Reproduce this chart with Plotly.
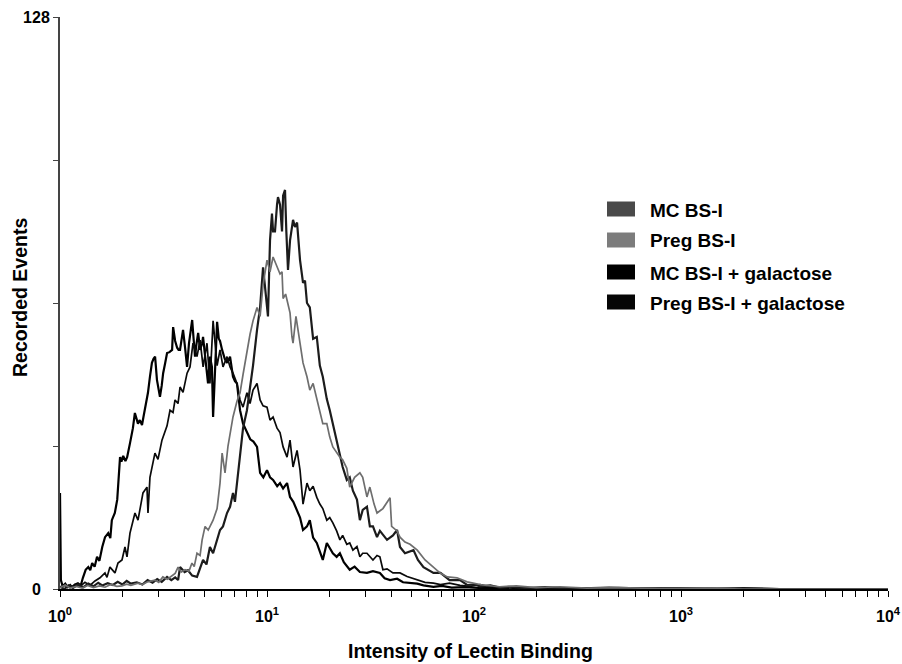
import plotly.graph_objects as go

# ---------------- data (intensity, recorded events) ----------------
mc_gal_x = [1.0, 1.01, 1.03, 1.06, 1.09, 1.12, 1.15, 1.18, 1.22, 1.26, 1.29, 1.33, 1.37, 1.40, 1.43, 1.47,
            1.51, 1.55, 1.60, 1.65, 1.71, 1.75, 1.78, 1.84, 1.89, 1.92, 1.95, 1.98, 2.02, 2.07, 2.11, 2.18,
            2.25, 2.30, 2.34, 2.38, 2.43, 2.49, 2.53, 2.57, 2.61, 2.66, 2.72, 2.78, 2.83, 2.88, 2.94, 2.99,
            3.04, 3.10, 3.15, 3.22, 3.29, 3.38, 3.48, 3.52, 3.60, 3.68, 3.74, 3.80, 3.87, 3.93, 4.02, 4.11,
            4.20, 4.35, 4.42, 4.49, 4.57, 4.65, 4.75, 4.86, 4.91, 5.05, 5.19, 5.30, 5.42, 5.49, 5.60, 5.74,
            5.85, 5.93, 6.07, 6.25, 6.41, 6.63, 6.85, 7.0, 7.16, 7.41, 7.66, 8.0, 8.3, 8.6, 8.95, 9.26, 9.6,
            10.0, 10.34, 10.7, 11.2, 11.56, 11.96, 12.5, 12.92, 13.4, 13.97, 14.44, 14.93, 15.6, 16.1, 16.7,
            17.4, 18.0, 18.6, 19.45, 20.1, 20.8, 21.7, 22.5, 23.5, 25.1, 26.5, 28.1, 30.4, 32.5, 35.1, 37,
            39.3, 42.5, 45.4, 49, 53.2, 57, 63.7, 70, 78, 90, 110, 140, 200, 300, 500, 800, 1500, 3000, 10000]
mc_gal_y = [21.5, 2.0, 0.6, 1.2, 0.4, 0.9, 0.3, 1.0, 1.3, 0.8, 2.5, 4.3, 4.9, 4.2, 5.8, 5.0,
            7.2, 6.3, 9.4, 11.6, 12.5, 11.4, 15.4, 17.0, 20.0, 24.0, 29.5, 28.5, 29.8, 28.6, 29.5, 32.7,
            36.0, 39.4, 38.0, 37.0, 37.8, 36.7, 38.5, 40.0, 42.0, 43.9, 47.5, 50.6, 51.5, 52.0, 46.8, 45.0,
            43.0, 45.5, 48.3, 50.5, 52.8, 53.0, 53.5, 58.6, 55.5, 54.0, 53.5, 53.5, 56.0, 58.0, 54.0, 49.7,
            55.0, 60.2, 56.0, 52.0, 55.0, 57.3, 53.5, 55.0, 56.4, 51.0, 46.0, 52.0, 49.7, 38.5, 50.0, 59.8,
            56.0, 55.5, 53.5, 51.5, 50.6, 52.0, 47.5, 46.5, 46.0, 40.0, 37.0, 35.0, 33.5, 33.0, 31.8, 26.0, 25.0,
            26.6, 25.0, 24.4, 23.0, 23.7, 22.5, 23.7, 20.6, 19.5, 17.7, 16.0, 13.2, 14.0, 15.4, 11.5,
            10.3, 8.5, 6.5, 10.3, 9.0, 8.0, 7.2, 8.0, 6.0, 4.3, 5.0, 3.8, 3.6, 4.0, 3.6, 2.4,
            2.0, 2.3, 1.5, 1.3, 1.2, 0.8, 0.5, 0.7, 0.3, 0.4, 0.2, 0.3, 0.1, 0.2, 0.1, 0.1, 0.1, 0.0, 0.0]

preg_gal_x = [1.0, 1.057, 1.118, 1.182, 1.249, 1.32, 1.396, 1.476, 1.56, 1.649, 1.686, 1.743, 1.843, 1.906,
              1.993, 2.06, 2.107, 2.178, 2.302, 2.381, 2.517, 2.631, 2.661, 2.72, 2.875, 2.974, 3.109, 3.289,
              3.4, 3.516, 3.595, 3.716, 3.801, 3.929, 4.11, 4.247, 4.39, 4.59, 4.75, 4.913, 5.13, 5.3, 5.49,
              5.74, 5.93, 6.13, 6.41, 6.63, 6.85, 7.16, 7.41, 7.66, 8.0, 8.28, 8.56, 8.95, 9.26, 9.57, 10.0,
              10.34, 10.7, 11.18, 11.56, 11.96, 12.5, 12.92, 13.36, 13.97, 14.44, 14.93, 15.6, 16.1, 16.7,
              17.4, 18.0, 18.6, 19.45, 20.1, 20.8, 21.7, 22.5, 23.2, 24.3, 25.1, 26.0, 27.2, 28.1, 29.0,
              30.4, 32.5, 34.0, 35.1, 36.3, 38.0, 40.6, 43.9, 47.5, 53.2, 58, 63.7, 68.9, 76.2, 85.6, 95.8,
              107, 120, 133, 167, 233, 407, 1232, 3730, 10000]
preg_gal_y = [0.5, 0.8, 0.3, 1.0, 0.6, 1.5, 0.8, 1.8, 2.5, 3.6, 2.6, 4.9, 3.6, 5.8,
              6.5, 9.4, 7.2, 12.5, 17.0, 15.4, 21.5, 22.8, 17.0, 25.0, 30.4, 29.0, 33.3, 36.5,
              40.0, 39.5, 42.3, 41.5, 45.2, 44.0, 48.3, 49.7, 55.0, 52.0, 55.7, 49.7, 55.0, 46.0, 60.0,
              50.0, 53.5, 49.7, 52.0, 49.7, 48.3, 46.0, 42.3, 40.7, 43.9, 41.5, 44.5, 46.0, 42.3, 41.0, 40.7,
              37.8, 38.5, 36.0, 35.0, 31.8, 29.5, 33.3, 27.3, 31.0, 26.6, 19.0, 23.7, 22.0, 23.0,
              20.5, 19.0, 18.0, 15.4, 16.0, 14.8, 13.0, 11.0, 12.0, 10.0, 10.3, 8.7, 9.5, 7.2, 8.0,
              8.0, 6.5, 7.5, 7.2, 4.3, 4.5, 3.6, 3.6, 2.8, 2.0, 1.5, 1.3, 1.0, 1.3, 0.8, 0.6,
              1.0, 0.5, 0.4, 0.3, 0.2, 0.2, 0.1, 0.0, 0.0]

mc_x = [1.0, 1.05, 1.1, 1.16, 1.22, 1.3, 1.37, 1.45, 1.53, 1.6, 1.7, 1.8, 1.9, 2.0, 2.1, 2.2, 2.35, 2.5,
        2.65, 2.8, 2.95, 3.1, 3.29, 3.45, 3.6, 3.72, 3.8, 4.0, 4.15, 4.35, 4.59, 4.75, 4.91, 5.1, 5.3, 5.49,
        5.74, 5.93, 6.13, 6.41, 6.63, 6.85, 7.0, 7.16, 7.41, 7.66, 8.0, 8.28, 8.56, 8.95, 9.26, 9.57, 9.78,
        10.11, 10.34, 10.57, 10.7, 10.93, 11.18, 11.3, 11.56, 11.82, 11.96, 12.22, 12.4, 12.63, 12.92,
        13.36, 13.65, 13.97, 14.44, 14.93, 15.26, 15.6, 16.1, 16.7, 17.4, 18.0, 18.6, 19.45, 20.1, 20.8,
        21.7, 22.5, 23.2, 24.3, 25.1, 26.0, 27.2, 28.1, 29.0, 30.4, 31.4, 32.5, 34.0, 35.1, 38.0, 40.6,
        42.5, 43.9, 46.4, 51.0, 53.6, 57.0, 63.7, 68.9, 76.2, 85.6, 92.6, 101, 107, 120, 133, 150, 180,
        220, 300, 450, 700, 1000, 1500, 2000, 3000, 10000]
mc_y = [0.5, 0.0, 0.8, 0.3, 1.0, 0.4, 1.2, 0.6, 1.4, 0.8, 1.3, 0.9, 1.6, 1.0, 1.8, 1.2, 1.5, 1.0,
        2.0, 1.4, 2.2, 1.6, 2.7, 2.0, 2.6, 2.0, 4.9, 3.8, 4.2, 3.0, 2.7, 4.5, 6.5, 5.5, 9.4, 8.0,
        11.0, 13.2, 14.0, 17.0, 18.4, 21.5, 19.5, 23.7, 31.0, 36.0, 40.0, 45.0, 50.0, 58.0, 63.0, 72.0, 68.0,
        61.0, 78.0, 84.0, 80.0, 80.0, 86.0, 87.7, 86.0, 80.0, 88.0, 89.3, 80.0, 71.4, 78.0,
        82.6, 81.0, 82.0, 73.6, 68.5, 69.0, 64.0, 63.0, 56.0, 56.4, 50.0, 47.5, 42.5, 40.0, 37.0,
        33.0, 29.5, 27.3, 24.4, 25.0, 22.0, 20.0, 15.4, 17.7, 18.4, 14.0, 14.0, 11.6, 13.0, 11.0, 12.0,
        13.2, 9.4, 8.0, 8.7, 6.5, 4.9, 3.6, 3.6, 2.0, 2.0, 0.9, 1.0, 0.6, 0.8, 0.3, 0.5, 0.2,
        0.4, 0.1, 0.3, 0.1, 0.2, 0.0, 0.2, 0.0, 0.0]

preg_x = [1.0, 1.06, 1.12, 1.2, 1.28, 1.36, 1.45, 1.55, 1.65, 1.76, 1.88, 1.99, 2.1, 2.2, 2.38, 2.5, 2.65,
          2.87, 3.0, 3.14, 3.3, 3.47, 3.6, 3.72, 3.85, 4.02, 4.2, 4.34, 4.45, 4.59, 4.75, 4.86, 5.02, 5.2,
          5.49, 5.74, 5.93, 6.07, 6.27, 6.48, 6.63, 6.85, 7.16, 7.41, 7.66, 8.0, 8.28, 8.56, 8.95, 9.26,
          9.57, 10.0, 10.34, 10.7, 11.18, 11.56, 11.82, 11.96, 12.3, 12.63, 12.92, 13.2, 13.36, 13.8, 14.1,
          14.44, 14.93, 15.6, 16.1, 16.7, 17.4, 18.0, 18.6, 19.45, 20.1, 20.8, 21.7, 22.5, 23.2, 24.3, 25.1,
          26.5, 28.1, 29.0, 30.4, 31.4, 32.9, 34.0, 36.3, 39.3, 40.0, 42.5, 43.9, 46.4, 49.1, 53.2, 58.0,
          63.7, 68.9, 74.4, 82.8, 92.6, 101, 110, 133, 160, 200, 260, 350, 500, 800, 1300, 2000, 10000]
preg_y = [0.3, 0.9, 0.2, 0.6, 0.2, 0.8, 0.3, 0.7, 0.4, 1.0, 0.6, 0.7, 1.1, 0.8, 1.3, 1.0, 1.6,
          2.0, 1.5, 2.7, 2.2, 3.0, 3.5, 4.9, 3.8, 4.3, 4.0, 5.8, 5.0, 8.0, 7.5, 11.0, 14.0, 13.2,
          15.4, 18.0, 23.7, 30.4, 26.0, 32.0, 35.0, 38.5, 42.0, 43.9, 48.0, 53.5, 57.0, 60.0, 63.0, 61.0,
          68.0, 73.6, 71.0, 74.3, 72.0, 70.5, 71.0, 65.0, 66.0, 64.0, 61.8, 56.4, 55.0, 61.0, 58.0,
          55.0, 50.6, 47.5, 44.5, 46.0, 42.3, 40.0, 37.0, 37.0, 34.0, 31.8, 30.4, 29.5, 28.9, 27.0, 22.8,
          25.0, 26.0, 25.0, 20.6, 22.8, 19.0, 17.0, 18.0, 20.4, 14.0, 13.0, 11.6, 10.5, 10.0, 8.7, 6.5,
          4.9, 3.5, 2.7, 2.5, 1.6, 1.2, 0.9, 0.5, 0.7, 0.3, 0.5, 0.2, 0.3, 0.1, 0.2, 0.0, 0.0]

legend_labels = ["MC BS-I", "Preg BS-I", "MC BS-I + galactose", "Preg BS-I + galactose"]
legend_colors = ["#4a4a4a", "#7c7c7c", "#000000", "#050505"]

x_tickvals = [1, 10, 100, 1000, 10000]
x_ticktext = ["<b>10<sup>0</sup></b>", "<b>10<sup>1</sup></b>", "<b>10<sup>2</sup></b>",
              "<b>10<sup>3</sup></b>", "<b>10<sup>4</sup></b>"]
y_tickvals = [0, 32, 64, 96, 128]
y_ticktext = ["<b>0</b>\u00a0\u00a0", "", "", "", "<b>128</b>"]

FONT = "Liberation Sans, Arial, Helvetica, sans-serif"

fig = go.Figure()
series = [
    (mc_gal_x, mc_gal_y, "#000000", 2.2),
    (preg_gal_x, preg_gal_y, "#0a0a0a", 1.7),
    (mc_x, mc_y, "#1c1c1c", 2.2),
    (preg_x, preg_y, "#6e6e6e", 1.7),
]
for xs, ys, col, w in series:
    fig.add_trace(go.Scatter(x=xs, y=ys, mode="lines", line=dict(color=col, width=w),
                             showlegend=False, hoverinfo="skip"))

minor_vals = [k * 10 ** d for d in range(4) for k in range(2, 10)]

fig.update_xaxes(type="log", range=[0, 4], tickvals=x_tickvals, ticktext=x_ticktext,
                 ticks="outside", ticklen=6, tickwidth=1, tickcolor="black",
                 showline=True, linecolor="black", linewidth=2, showgrid=False, zeroline=False,
                 minor=dict(tickvals=minor_vals, ticks="outside", ticklen=6, tickwidth=1,
                            tickcolor="black", showgrid=False),
                 tickfont=dict(family=FONT, size=16, color="black"), ticklabelstandoff=6,
                 automargin=False)
fig.update_yaxes(range=[0, 128], tickvals=y_tickvals, ticktext=y_ticktext,
                 ticks="outside", ticklen=5, tickwidth=1, tickcolor="#444",
                 showline=True, linecolor="#444", linewidth=2, showgrid=False, zeroline=False,
                 tickfont=dict(family=FONT, size=16, color="black"), automargin=False)

# legend built from boxes and labels
box_y = [209, 240, 272, 302]
shapes = []
annotations = []
for lab, col, py in zip(legend_labels, legend_colors, box_y):
    y0 = (589 - (py + 7.5)) / 572
    y1 = (589 - (py - 7.5)) / 572
    shapes.append(dict(type="rect", xref="paper", yref="paper", x0=(607 - 60) / 828, x1=(635 - 60) / 828,
                       y0=y0, y1=y1, fillcolor=col, line=dict(width=0)))
    annotations.append(dict(text="<b>%s</b>" % lab, xref="paper", yref="paper",
                            x=(648 - 60) / 828, y=(589 - (py + 1)) / 572, xanchor="left", yanchor="middle",
                            showarrow=False, font=dict(family=FONT, size=19, color="black")))

annotations.append(dict(text="<b>Intensity of Lectin Binding</b>", xref="paper", yref="paper",
                        x=(470 - 60) / 828, y=(589 - 651) / 572, xanchor="center", yanchor="middle",
                        showarrow=False, font=dict(family=FONT, size=19.5, color="black")))
annotations.append(dict(text="<b>Recorded Events</b>", xref="paper", yref="paper",
                        x=(20 - 60) / 828, y=(589 - 298) / 572, xanchor="center", yanchor="middle",
                        textangle=-90, showarrow=False, font=dict(family=FONT, size=19.5, color="black")))

fig.update_layout(width=902, height=664, margin=dict(l=60, r=14, t=17, b=75, autoexpand=False),
                  paper_bgcolor="white", plot_bgcolor="white", shapes=shapes, annotations=annotations,
                  showlegend=False)

fig.write_html("out.html")
